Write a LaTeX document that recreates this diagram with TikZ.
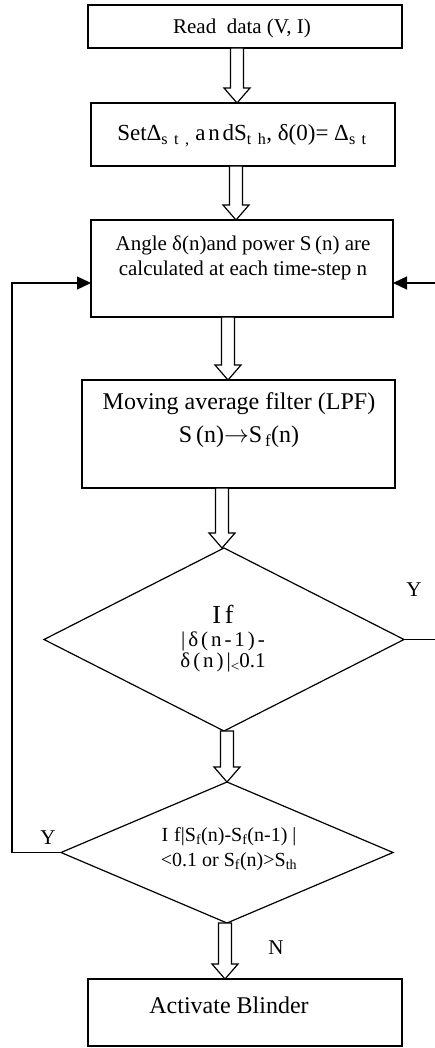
\documentclass[tikz,border=0pt]{standalone}
\usepackage{fontspec}
\setmainfont{Liberation Serif}
\usetikzlibrary{shapes.geometric,arrows.meta,calc}
\newcommand\fs[2]{\fontsize{#1}{#2}\selectfont}
\newcommand\ls[1]{\addfontfeature{LetterSpace=#1}}
% block arrow: x position (pt), start anchor, tip anchor
\newcommand\blockarrow[3]{%
  \draw[barrow] let \p1=(#2), \p2=(#3) in
    (#1pt-6.5pt,\y1) -- (#1pt+6.5pt,\y1) -- (#1pt+6.5pt,\y2+15pt)
    -- (#1pt+13pt,\y2+15pt) -- (#1pt,\y2) -- (#1pt-13pt,\y2+15pt)
    -- (#1pt-6.5pt,\y2+15pt) -- cycle;}
\tikzset{
  box/.style={draw, line width=1.3pt, inner sep=0pt, outer sep=0pt},
  dia/.style={draw, diamond, line width=1.2pt, inner sep=0pt, outer sep=0pt},
  txt/.style={inner sep=0pt, align=center},
  barrow/.style={draw, line width=1.2pt, fill=white, line join=miter},
  link/.style={line width=1.3pt, -{Triangle[length=14pt,width=13pt]}},
  lbl/.style={inner sep=0pt, font=\fs{21}{24}},
}
\begin{document}
\begin{tikzpicture}[x=1pt,y=-1pt]
\useasboundingbox (0,0) rectangle (434,1048);
\fill[white] (0,0) rectangle (434,1048);

% boxes
\node[box, minimum width=314pt, minimum height=43pt] (b1) at (245,26.5) {};
\node[txt, font=\fs{21}{24}] (b1t) at (242,28) {Read\ \ data (V, I)};

\node[box, minimum width=304pt, minimum height=63pt] (b2) at (243,134.5) {};
\node[txt, font=\fs{23}{27}] (b2t) at (242,136)
  {SetΔ\textsubscript{\ls{40}st,} {\ls{12}and}S\textsubscript{\ls{40}th}, δ(0)= Δ\textsubscript{\ls{40}st}};

\node[box, minimum width=302pt, minimum height=97pt] (b3) at (242,268.5) {};
\node[txt, font=\fs{21}{25}] (b3t) at (243,257.5)
  {Angle δ(n)and power S\,(n) are\\calculated at each time-step n};

\node[box, minimum width=313pt, minimum height=108pt] (b4) at (238.5,434) {};
\node[txt, font=\fs{24}{33}] (b4t) at (239,420)
  {Moving average filter (LPF)\\S\,(n)$\rightarrow$S\textsubscript{\,f}(n)};

\node[box, minimum width=314pt, minimum height=67pt] (b5) at (245,1012.5) {};
\node[txt, font=\fs{24}{28}] (b5t) at (229,1005) {Activate Blinder};

% diamonds
\node[dia, minimum width=360pt, minimum height=183pt] (d1) at (224,639.5) {};
\node[txt, font=\fs{21}{21}] (d1t) at (223,639)
  {{\fs{26}{30}\ls{15}If}\\[2pt]{\ls{14}|δ(n-1)-}\\{\ls{14}δ(n)|}\raisebox{-0.35ex}{\fs{15}{15}<}0.1};

\node[dia, minimum width=332pt, minimum height=141pt] (d2) at (227,852.5) {};
\node[txt, font=\fs{20}{25}] (d2t) at (229,849)
  {{\ls{30}If}|S\textsubscript{f}(n)-S\textsubscript{f}(n-1) |\\<0.1 or S\textsubscript{f}(n)>S\textsubscript{th}};

% block arrows
\blockarrow{237}{b1.south}{b2.north}
\blockarrow{236}{b2.south}{b3.north}
\blockarrow{228}{b3.south}{b4.north}
\blockarrow{222}{b4.south}{d1.north}
\blockarrow{227}{d1.south}{d2.north}
\blockarrow{225}{d2.south}{b5.north}

% feedback loops
\coordinate (lc) at (12,283);
\coordinate (rc) at (436,283);
\draw[link] (d2.west) -| (lc) -- (lc -| b3.west);
\draw[link] (d1.east) -| (rc) -- (rc -| b3.east);

% labels
\node[lbl] (y1) at (414,590) {Y};
\node[lbl] (y2) at (48,838) {Y};
\node[lbl] (n1) at (276,948) {N};
\end{tikzpicture}
\end{document}
